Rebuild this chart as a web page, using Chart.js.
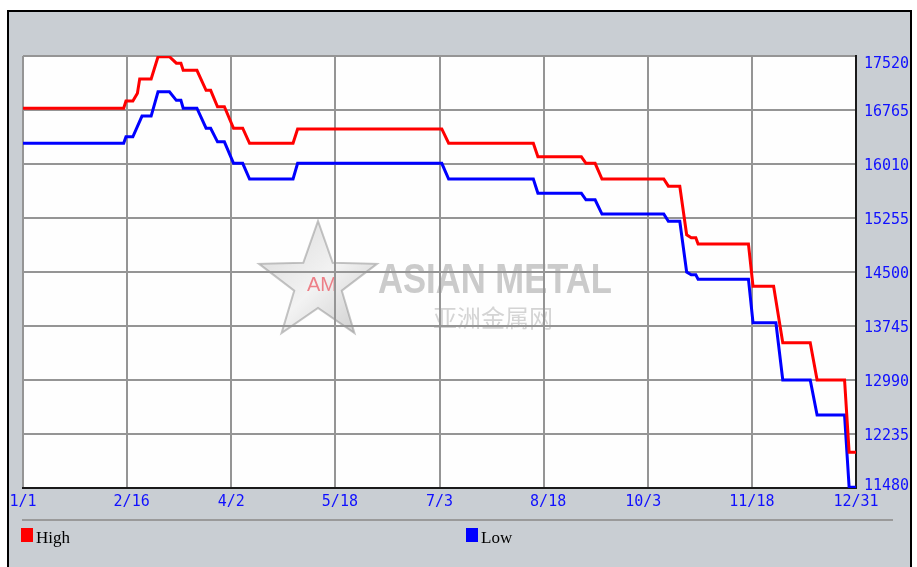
<!DOCTYPE html>
<html lang="en">
<head>
    <meta charset="UTF-8">
    <title>Asian Metal - High / Low</title>
    <script src="https://cdn.jsdelivr.net/npm/chart.js"></script>
    <style>
        body {
            margin: 0;
            background: #ffffff;
            width: 917px;
            height: 567px;
            overflow: hidden;
            position: relative;
        }

        .panel {
            position: absolute;
            left: 7px;
            top: 10px;
            width: 901px;
            height: 600px;
            background: #c9ced3;
            border: 2px solid #000;
            border-bottom: none;
            overflow: hidden;
        }

        #chartCanvas {
            position: absolute;
            left: 0;
            top: 0;
        }

        .sep {
            position: absolute;
            left: 13px;
            top: 507px;
            width: 871px;
            height: 2px;
            background: #9a9a9a;
        }

        .swatch {
            position: absolute;
            top: 516px;
            width: 12px;
            height: 14px;
        }

        .legend-text {
            position: absolute;
            top: 517px;
            font: 17px "Liberation Serif", "DejaVu Serif", serif;
            line-height: 17px;
            color: #000;
        }
    </style>
</head>
<body>

<div class="panel">
    <canvas id="chartCanvas" width="901" height="555"></canvas>
    <div class="sep"></div>
    <div class="swatch" style="left:12px; background:#ff0000;"></div>
    <div class="legend-text" style="left:27px;">High</div>
    <div class="swatch" style="left:457px; background:#0000ff;"></div>
    <div class="legend-text" style="left:472px;">Low</div>
</div>

<script>
    // x axis: day of year, 0 = 1/1, 364 = 12/31
    const dateLabels = ['1/1', '2/16', '4/2', '5/18', '7/3', '8/18', '10/3', '11/18', '12/31'];
    const priceTicks = [114800, 122350, 129900, 137450, 145000, 152550, 160100, 167650, 175200];

    const highDays   = [0, 44, 45, 48, 50, 51, 56, 59, 64, 67, 69, 70, 76, 80, 82, 85, 88, 92, 96, 99,
                        118, 120, 183, 186, 223, 225, 244, 246, 250, 253, 280, 282, 287, 290, 292, 294,
                        295, 317, 319, 328, 332, 344, 347, 359, 361, 364];
    const highPrices = [167900, 167900, 168900, 168900, 170000, 172000, 172000, 175100, 175100, 174200,
                        174200, 173200, 173200, 170400, 170400, 168100, 168100, 165100, 165100, 163000,
                        163000, 165000, 165000, 163000, 163000, 161100, 161100, 160200, 160200, 158000,
                        158000, 157000, 157000, 150200, 149800, 149800, 148900, 148900, 143000, 143000,
                        135100, 135100, 129900, 129900, 119800, 119800];

    const lowDays    = [0, 44, 45, 48, 52, 56, 59, 64, 67, 69, 70, 76, 80, 82, 85, 88, 92, 96, 99, 118,
                        120, 183, 186, 223, 225, 244, 246, 250, 253, 280, 282, 287, 290, 292, 294, 295,
                        317, 319, 329, 332, 344, 347, 359, 361, 364];
    const lowPrices  = [163000, 163000, 163900, 163900, 166800, 166800, 170200, 170200, 169000, 169000,
                        167900, 167900, 165100, 165100, 163200, 163200, 160200, 160200, 158000, 158000,
                        160200, 160200, 158000, 158000, 156000, 156000, 155100, 155100, 153100, 153100,
                        152100, 152100, 145000, 144600, 144600, 144000, 144000, 137900, 137900, 129900,
                        129900, 125000, 125000, 114900, 114900];

    const LAST_DAY = 364;
    const monoFont = { family: '"DejaVu Sans Mono", "Liberation Mono", monospace', size: 15 };
    const tickBlue = '#1010ff';

    function toPoints(days, prices) {
        return days.map((d, i) => ({ x: d, y: prices[i] }));
    }

    // centre each date label on its '/'
    function padDate(s) {
        const [a, b] = s.split('/');
        const n = Math.max(a.length, b.length);
        return a.padStart(n) + '/' + b.padEnd(n);
    }

    const watermark = {
        id: 'watermark',
        beforeDraw(chart) {
            const { ctx, chartArea: ca } = chart;
            ctx.save();
            ctx.fillStyle = '#fefefe';
            ctx.fillRect(ca.left, ca.top, ca.right - ca.left, ca.bottom - ca.top);

            // star
            const cx = ca.left + 295, cy = ca.top + 227, R = 62, r = 25;
            ctx.beginPath();
            for (let i = 0; i < 10; i++) {
                const rad = i % 2 ? r : R;
                const a = -Math.PI / 2 + i * Math.PI / 5;
                const px = cx + rad * Math.cos(a), py = cy + rad * Math.sin(a);
                i ? ctx.lineTo(px, py) : ctx.moveTo(px, py);
            }
            ctx.closePath();
            const g = ctx.createLinearGradient(cx - R, cy - R, cx + R, cy + R);
            g.addColorStop(0, 'rgba(185,185,185,0.55)');
            g.addColorStop(0.5, 'rgba(235,235,235,0.6)');
            g.addColorStop(1, 'rgba(150,150,150,0.55)');
            ctx.fillStyle = g;
            ctx.fill();
            ctx.strokeStyle = 'rgba(140,140,140,0.5)';
            ctx.lineWidth = 2;
            ctx.stroke();

            ctx.fillStyle = 'rgba(235,90,100,0.75)';
            ctx.font = '20px "Liberation Sans", Arial, sans-serif';
            ctx.textAlign = 'center';
            ctx.textBaseline = 'middle';
            ctx.fillText('AM', ca.left + 299, ca.top + 229);

            // company name
            ctx.fillStyle = '#cbcbcb';
            ctx.font = 'bold 42px "Liberation Sans", Arial, sans-serif';
            ctx.textAlign = 'left';
            ctx.textBaseline = 'alphabetic';
            const name = 'ASIAN METAL';
            const sx = 234 / ctx.measureText(name).width;
            ctx.save();
            ctx.translate(ca.left + 355, ca.top + 237);
            ctx.scale(sx, 1);
            ctx.fillText(name, 0, 0);
            ctx.restore();

            ctx.fillStyle = '#d4d4d4';
            ctx.font = '24px "Noto Sans CJK SC", sans-serif';
            ctx.textBaseline = 'middle';
            ctx.fillText('亚洲金属网', ca.left + 410, ca.top + 262);
            ctx.restore();
        }
    };

    const ctx = document.getElementById('chartCanvas').getContext('2d');

    new Chart(ctx, {
        type: 'line',
        data: {
            datasets: [
                {
                    label: 'High',
                    data: toPoints(highDays, highPrices),
                    borderColor: '#ff0000',
                    backgroundColor: '#ff0000',
                    borderWidth: 3,
                    pointRadius: 0,
                    tension: 0,
                    fill: false
                },
                {
                    label: 'Low',
                    data: toPoints(lowDays, lowPrices),
                    borderColor: '#0000ff',
                    backgroundColor: '#0000ff',
                    borderWidth: 3,
                    pointRadius: 0,
                    tension: 0,
                    fill: false
                }
            ]
        },
        options: {
            responsive: false,
            animation: false,
            devicePixelRatio: 1,
            layout: { padding: { left: 14, top: 44, right: 0, bottom: 0 } },
            plugins: {
                legend: { display: false },
                tooltip: { enabled: false },
                title: { display: false }
            },
            scales: {
                x: {
                    type: 'linear',
                    min: 0,
                    max: LAST_DAY,
                    afterBuildTicks: scale => {
                        scale.ticks = dateLabels.map((_, i) => ({ value: i * LAST_DAY / (dateLabels.length - 1) }));
                    },
                    afterFit: scale => {
                        scale.height = 79;
                        scale.paddingLeft = 0;
                        scale.paddingRight = 0;
                    },
                    grid: { color: '#959595', lineWidth: 2, drawTicks: false },
                    border: { color: '#1a1a1a', width: 2 },
                    ticks: {
                        autoSkip: false,
                        maxRotation: 0,
                        padding: 5,
                        color: tickBlue,
                        font: monoFont,
                        callback: (v, i) => padDate(dateLabels[i])
                    }
                },
                y: {
                    position: 'right',
                    weight: 0,
                    min: priceTicks[0],
                    max: priceTicks[priceTicks.length - 1],
                    afterBuildTicks: scale => {
                        scale.ticks = priceTicks.map(v => ({ value: v }));
                    },
                    afterFit: scale => {
                        scale.width = 0;
                        scale.paddingTop = 0;
                        scale.paddingBottom = 0;
                    },
                    grid: { color: '#959595', lineWidth: 2, drawTicks: false },
                    border: { color: '#1a1a1a', width: 2 },
                    ticks: { display: false }
                },
                // label-only axis: end labels kept inside the plot height
                yl: {
                    position: 'right',
                    weight: 1,
                    min: priceTicks[0],
                    max: priceTicks[priceTicks.length - 1],
                    afterBuildTicks: scale => {
                        const span = scale.max - scale.min;
                        const last = priceTicks.length - 1;
                        scale.ticks = priceTicks.map((v, i) => ({
                            value: i === last ? v - span * 6.5 / 432 : i === 0 ? v + span * 4 / 432 : v
                        }));
                    },
                    afterFit: scale => {
                        scale.width = 54;
                        scale.paddingTop = 0;
                        scale.paddingBottom = 0;
                    },
                    grid: { display: false, drawTicks: false },
                    border: { display: false },
                    ticks: {
                        padding: 8,
                        labelOffset: 2,
                        color: tickBlue,
                        font: monoFont,
                        callback: (v, i) => String(priceTicks[i])
                    }
                }
            }
        },
        plugins: [watermark]
    });
</script>

</body>
</html>
